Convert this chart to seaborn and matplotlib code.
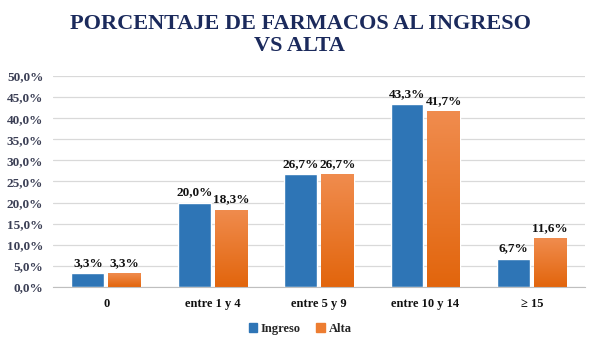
import numpy as np
import pandas as pd
import matplotlib
matplotlib.use('Agg')
import matplotlib.pyplot as plt
from matplotlib.patches import Patch
from matplotlib.ticker import FuncFormatter, MultipleLocator
import seaborn as sns

categories = ['0', 'entre 1 y 4', 'entre 5 y 9', 'entre 10 y 14', '\u2265 15']
ingreso = [3.3, 20.0, 26.7, 43.3, 6.7]
alta = [3.3, 18.3, 26.7, 41.7, 11.6]
series = ['Ingreso', 'Alta']

df = pd.DataFrame({
    'cat': categories * 2,
    'serie': ['Ingreso'] * len(categories) + ['Alta'] * len(categories),
    'valor': ingreso + alta,
})

BLUE = '#2E75B6'
ORANGE = '#ED7D31'
NAVY = '#1B2A5C'
TICK = '#3B3F55'

sns.set_style('white')
plt.rcParams['font.family'] = ['Liberation Serif', 'DejaVu Serif']
plt.rcParams['font.weight'] = 'bold'

fig = plt.figure(figsize=(6, 3.48), dpi=100)
ax = fig.add_axes([0.0883, 0.1753, 0.8867, 0.6063])

sns.barplot(data=df, x='cat', y='valor', hue='serie', order=categories,
            hue_order=series, palette=[BLUE, ORANGE], width=0.69, gap=0.11,
            legend=False, ax=ax, saturation=1)

ax.set_ylim(0, 50)
ax.yaxis.set_major_locator(MultipleLocator(5))
ax.yaxis.set_major_formatter(FuncFormatter(lambda y, _: f"{y:.1f}%".replace('.', ',')))
ax.grid(True, axis='y', color='#D9D9D9', linewidth=0.9)
ax.set_axisbelow(True)
for s in ['top', 'right', 'left']:
    ax.spines[s].set_visible(False)
ax.spines['bottom'].set_color('#BFBFBF')
ax.set_xlabel('')
ax.set_ylabel('')
ax.tick_params(axis='y', length=0, labelsize=9.5, labelcolor=TICK, pad=7)
ax.tick_params(axis='x', length=0, labelsize=9, labelcolor='#111111', pad=8)
for t in ax.get_xticklabels() + ax.get_yticklabels():
    t.set_fontweight('bold')

# gradient on orange bars
grad = np.linspace(0, 1, 256).reshape(-1, 1)
cmap = matplotlib.colors.LinearSegmentedColormap.from_list('og', ['#E2650C', '#F08C4E'])
for bar in ax.containers[1]:
    x0, y0 = bar.get_x(), bar.get_y()
    w, h = bar.get_width(), bar.get_height()
    im = ax.imshow(grad, cmap=cmap, aspect='auto', origin='lower',
                   extent=[x0, x0 + w, y0, y0 + h], zorder=bar.get_zorder() + 0.1)
    im.set_clip_path(bar)
ax.set_xlim(-0.5, len(categories) - 0.5)
ax.set_ylim(0, 50)

for cont, vals in zip(ax.containers, [ingreso, alta]):
    ax.bar_label(cont, labels=[f"{v:.1f}%".replace('.', ',') for v in vals],
                 padding=3, fontsize=9.5, fontweight='bold', color='#111111')

fig.text(0.5, 0.90, 'PORCENTAJE DE FARMACOS AL INGRESO\nVS ALTA', ha='center', va='center',
         fontsize=16, fontweight='bold', color=NAVY, linespacing=1.15)

handles = [Patch(color=BLUE, label='Ingreso'), Patch(color=ORANGE, label='Alta')]
fig.legend(handles=handles, loc='center', bbox_to_anchor=(0.5, 0.054), ncol=2,
           frameon=False, handlelength=0.7, handleheight=0.7, handletextpad=0.3,
           columnspacing=1.2, prop={'size': 9, 'weight': 'bold'})

fig.savefig('out.png', dpi=100)
